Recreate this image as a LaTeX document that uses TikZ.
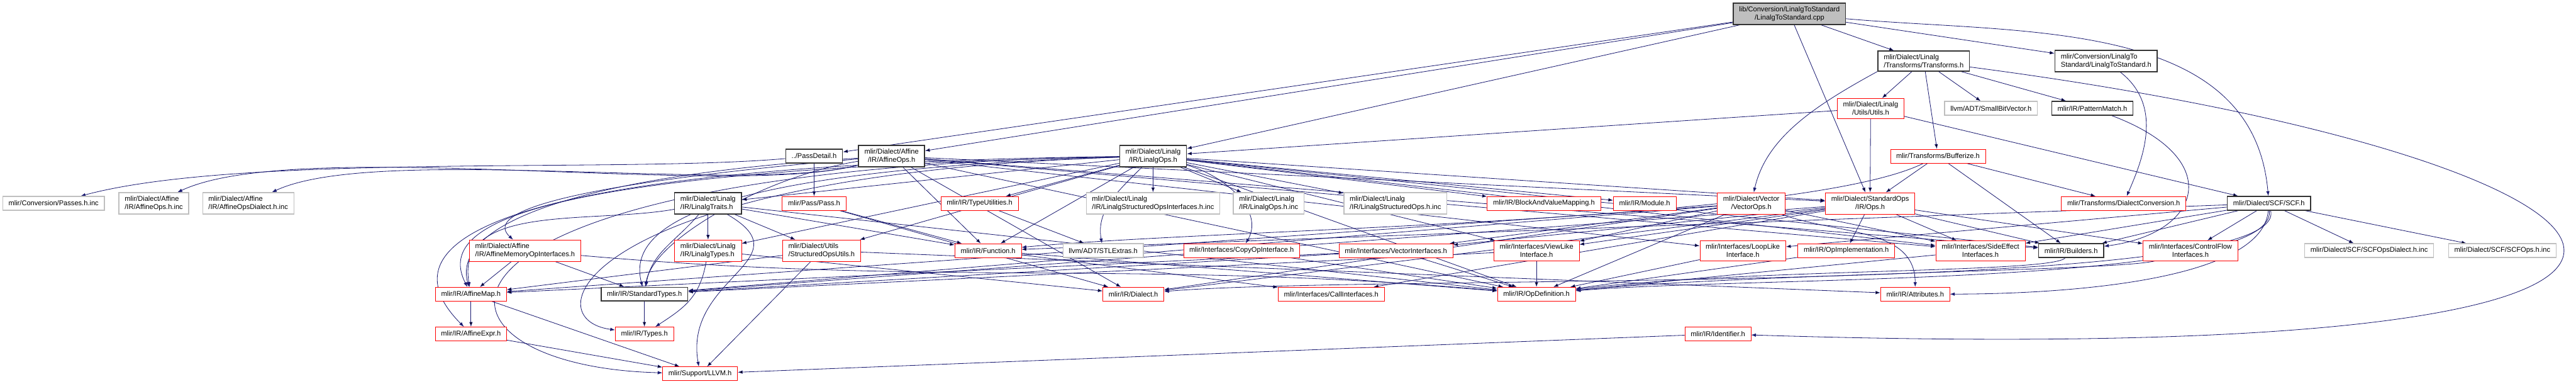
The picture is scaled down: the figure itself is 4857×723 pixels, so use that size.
\documentclass[tikz,border=0pt]{standalone}
\usepackage{fontspec}
\setmainfont{Liberation Sans}
\usetikzlibrary{arrows.meta,backgrounds}

\definecolor{edgeblue}{HTML}{191970}
\definecolor{sysgray}{HTML}{BFBFBF}

\begin{document}
\begin{tikzpicture}[
  x=0.02cm, y=0.02cm,
  hdr/.style={rectangle, draw, fill=white, align=center, inner xsep=0.22cm, inner ysep=0.13cm, minimum height=0.52cm, font=\fontsize{7.5}{8.5}\selectfont},
  redhdr/.style={hdr, draw=red, line width=0.5pt},
  blkhdr/.style={hdr, draw=black!80, line width=1pt},
  syshdr/.style={hdr, draw=sysgray, line width=0.8pt},
  roothdr/.style={blkhdr, fill=sysgray},
  dep/.style={-{Latex[length=0.18cm,width=0.13cm]}, draw=edgeblue, line width=0.55pt},
]
\useasboundingbox (0,0) rectangle (4857,-723);

% === source file and its direct headers ===
\node[roothdr] (root) at (3374,-26) {lib/Conversion/LinalgToStandard\\/LinalgToStandard.cpp};
\node[blkhdr, align=left] (transforms) at (3627,-115) {mlir/Dialect/Linalg\\/Transforms/Transforms.h};
\node[blkhdr, align=left] (l2sh) at (3971,-115) {mlir/Conversion/LinalgTo\\Standard/LinalgToStandard.h};

\node[redhdr] (utils) at (3527,-204) {mlir/Dialect/Linalg\\/Utils/Utils.h};
\node[syshdr] (smallbv) at (3754,-204) {llvm/ADT/SmallBitVector.h};
\node[blkhdr] (patmatch) at (3945,-204) {mlir/IR/PatternMatch.h};

\node[blkhdr] (passdetail) at (1535,-294) {../PassDetail.h};
\node[blkhdr] (affineops) at (1681,-294) {mlir/Dialect/Affine\\/IR/AffineOps.h};
\node[blkhdr] (linalgops) at (2174,-294) {mlir/Dialect/Linalg\\/IR/LinalgOps.h};
\node[redhdr] (bufferize) at (3654,-294) {mlir/Transforms/Bufferize.h};

% === rank 4 ===
\node[syshdr] (passesinc) at (101,-383) {mlir/Conversion/Passes.h.inc};
\node[syshdr, align=left] (affopsinc) at (290,-383) {mlir/Dialect/Affine\\/IR/AffineOps.h.inc};
\node[syshdr, align=left] (affdialinc) at (468,-383) {mlir/Dialect/Affine\\/IR/AffineOpsDialect.h.inc};
\node[blkhdr, align=left] (traits) at (1335,-383) {mlir/Dialect/Linalg\\/IR/LinalgTraits.h};
\node[redhdr] (pass) at (1535,-383) {mlir/Pass/Pass.h};
\node[redhdr] (typeutil) at (1847,-383) {mlir/IR/TypeUtilities.h};
\node[syshdr, align=left] (structifinc) at (2174,-383) {mlir/Dialect/Linalg\\/IR/LinalgStructuredOpsInterfaces.h.inc};
\node[syshdr, align=left] (linopsinc) at (2392,-383) {mlir/Dialect/Linalg\\/IR/LinalgOps.h.inc};
\node[syshdr, align=left] (structinc) at (2631,-383) {mlir/Dialect/Linalg\\/IR/LinalgStructuredOps.h.inc};
\node[redhdr] (bavm) at (2911,-383) {mlir/IR/BlockAndValueMapping.h};
\node[redhdr] (module) at (3101,-383) {mlir/IR/Module.h};
\node[redhdr] (vectorops) at (3302,-383) {mlir/Dialect/Vector\\/VectorOps.h};
\node[redhdr] (stdops) at (3526,-383) {mlir/Dialect/StandardOps\\/IR/Ops.h};
\node[redhdr] (dialconv) at (4004,-383) {mlir/Transforms/DialectConversion.h};
\node[blkhdr] (scf) at (4278,-383) {mlir/Dialect/SCF/SCF.h};

% === rank 5 ===
\node[redhdr, align=left] (affmemif) at (990,-472) {mlir/Dialect/Affine\\/IR/AffineMemoryOpInterfaces.h};
\node[redhdr, align=left] (lintypes) at (1335,-472) {mlir/Dialect/Linalg\\/IR/LinalgTypes.h};
\node[redhdr, align=left] (structutil) at (1549,-472) {mlir/Dialect/Utils\\/StructuredOpsUtils.h};
\node[redhdr] (function) at (1863,-472) {mlir/IR/Function.h};
\node[syshdr] (stlextras) at (2080,-472) {llvm/ADT/STLExtras.h};
\node[redhdr] (copyop) at (2341,-472) {mlir/Interfaces/CopyOpInterface.h};
\node[redhdr] (vectorif) at (2632,-472) {mlir/Interfaces/VectorInterfaces.h};
\node[redhdr] (viewlike) at (2897,-472) {mlir/Interfaces/ViewLike\\Interface.h};
\node[redhdr] (looplike) at (3286,-472) {mlir/Interfaces/LoopLike\\Interface.h};
\node[redhdr] (opimpl) at (3481,-472) {mlir/IR/OpImplementation.h};
\node[redhdr] (sideeff) at (3734,-472) {mlir/Interfaces/SideEffect\\Interfaces.h};
\node[blkhdr] (builders) at (3905,-472) {mlir/IR/Builders.h};
\node[redhdr] (ctrlflow) at (4130,-472) {mlir/Interfaces/ControlFlow\\Interfaces.h};
\node[syshdr] (scfdialinc) at (4467,-472) {mlir/Dialect/SCF/SCFOpsDialect.h.inc};
\node[syshdr] (scfopsinc) at (4718,-472) {mlir/Dialect/SCF/SCFOps.h.inc};

% === bottom ranks ===
\node[redhdr] (affmap) at (888,-554) {mlir/IR/AffineMap.h};
\node[blkhdr] (stdtypes) at (1215,-554) {mlir/IR/StandardTypes.h};
\node[redhdr] (dialect) at (2137,-554) {mlir/IR/Dialect.h};
\node[redhdr] (callif) at (2510,-554) {mlir/Interfaces/CallInterfaces.h};
\node[redhdr] (opdef) at (2897,-554) {mlir/IR/OpDefinition.h};
\node[redhdr] (attrs) at (3611,-554) {mlir/IR/Attributes.h};
\node[redhdr] (affexpr) at (888,-629) {mlir/IR/AffineExpr.h};
\node[redhdr] (types) at (1215,-629) {mlir/IR/Types.h};
\node[redhdr] (identifier) at (3239,-629) {mlir/IR/Identifier.h};
\node[redhdr] (llvmh) at (1320,-704) {mlir/Support/LLVM.h};

\begin{scope}[on background layer]
% === includes of the .cpp ===
\draw[dep] (root) edge (passdetail) edge (affineops) edge (linalgops) edge (transforms) edge (l2sh) edge (stdops);
\draw[dep] (root) to[out=-5, in=95] (scf);

% === Linalg transforms ===
\draw[dep] (transforms) edge (utils) edge (bufferize) edge (smallbv) edge (patmatch);
\draw[dep] (transforms.south west) .. controls (3420,-200) and (3330,-260) .. (vectorops);
\draw[dep] (transforms) .. controls (5050,-300) and (5500,-700) .. (identifier);
\draw[dep] (l2sh) .. controls (4080,-200) and (4040,-300) .. (dialconv);
\draw[dep] (patmatch) .. controls (4200,-300) and (4150,-440) .. (builders);
\draw[dep] (utils) edge (linalgops) edge (stdops) edge (scf);
\draw[dep] (bufferize) edge (stdops) edge (dialconv) edge (builders);
\draw[dep] (bufferize) .. controls (3400,-420) and (2300,-430) .. (function);

% === pass + affine ===
\draw[dep] (passdetail) edge (pass);
\draw[dep] (passdetail) to[out=185, in=15, looseness=0.6] (passesinc);
\draw[dep] (affineops) to[out=195, in=25, looseness=0.5] (affopsinc);
\draw[dep] (affineops) to[out=195, in=25, looseness=0.5] (affdialinc);
\draw[dep] (affineops) .. controls (1150,-340) and (900,-390) .. (affmemif);
\draw[dep] (affineops) .. controls (1100,-330) and (850,-420) .. (affmap);
\draw[dep] (affineops) .. controls (1450,-330) and (1230,-450) .. (stdtypes);
\draw[dep] (affineops) edge (function) edge (stdops) edge (builders) edge (dialect) edge (opdef) edge (looplike) edge (sideeff);

% === Linalg ops ===
\draw[dep] (linalgops) edge (traits) edge (lintypes) edge (structutil) edge (typeutil) edge (function) edge (structifinc) edge (linopsinc) edge (structinc) edge (bavm) edge (module) edge (stdops) edge (viewlike) edge (sideeff) edge (builders) edge (opdef);
\draw[dep] (linalgops) to[out=225, in=100] (stlextras);
\draw[dep] (linalgops) to[out=-15, in=60] (copyop);
\draw[dep] (linalgops) .. controls (1350,-320) and (1180,-420) .. (stdtypes);
\draw[dep] (linalgops) .. controls (1000,-320) and (820,-420) .. (affmap);
\draw[dep] (linalgops) .. controls (900,-310) and (720,-460) .. (affexpr);
\draw[dep] (linalgops) .. controls (1100,-330) and (1000,-600) .. (types);
\draw[dep] (linalgops) .. controls (700,-320) and (760,-690) .. (llvmh);
\draw[dep] (traits) edge (lintypes) edge (structutil) edge (function) edge (opdef);
\draw[dep] (traits) to[out=-130, in=80] (stdtypes);
\draw[dep] (traits) to[out=190, in=100] (affmap);
\draw[dep] (traits) to[out=-30, in=100, looseness=1.5] (llvmh);
\draw[dep] (pass) edge (function) edge (dialect);
\draw[dep] (typeutil) edge (stlextras);

% === vector, standard, scf ===
\draw[dep] (vectorops) edge (vectorif) edge (viewlike) edge (opdef) edge (sideeff) edge (dialect) edge (stdtypes) edge (affmap);
\draw[dep] (vectorops) to[out=-20, in=90] (attrs);
\draw[dep] (stdops) edge (opimpl) edge (sideeff) edge (builders) edge (ctrlflow) edge (vectorif) edge (viewlike) edge (callif) edge (dialect) edge (stdtypes);
\draw[dep] (scf) edge (ctrlflow) edge (scfdialinc) edge (scfopsinc) edge (sideeff) edge (looplike) edge (function) edge (builders);
\draw[dep] (scf) to[out=-95, in=0, looseness=0.6] (attrs);
\draw[dep] (scf) .. controls (4290,-540) and (3300,-520) .. (opdef);
\draw[dep] (scf) .. controls (4320,-560) and (2600,-515) .. (dialect);

% === interfaces down to IR ===
\draw[dep] (affmemif) edge (affmap) edge (stdtypes);
\draw[dep] (affmemif) to[out=-5, in=175] (opdef);
\draw[dep] (lintypes) edge (dialect);
\draw[dep] (lintypes) .. controls (1320,-560) and (1290,-580) .. (types);
\draw[dep] (structutil) edge (llvmh) edge (attrs) edge (affmap);
\draw[dep] (function) edge (opdef) edge (callif);
\draw[dep] (copyop) edge (opdef);
\draw[dep] (vectorif) edge (opdef) edge (stdtypes) edge (affmap);
\draw[dep] (viewlike) edge (opdef) edge (stdtypes);
\draw[dep] (looplike) edge (opdef);
\draw[dep] (opimpl) edge (opdef);
\draw[dep] (sideeff) edge (opdef);
\draw[dep] (builders) .. controls (3870,-515) and (3300,-505) .. (opdef);
\draw[dep] (ctrlflow) .. controls (4000,-510) and (3300,-515) .. (opdef);
\draw[dep] (affmap) edge (affexpr) edge (llvmh);
\draw[dep] (affexpr) edge (llvmh);
\draw[dep] (stdtypes) edge (types);
\draw[dep] (identifier) edge (llvmh);
\end{scope}

\end{tikzpicture}
\end{document}
